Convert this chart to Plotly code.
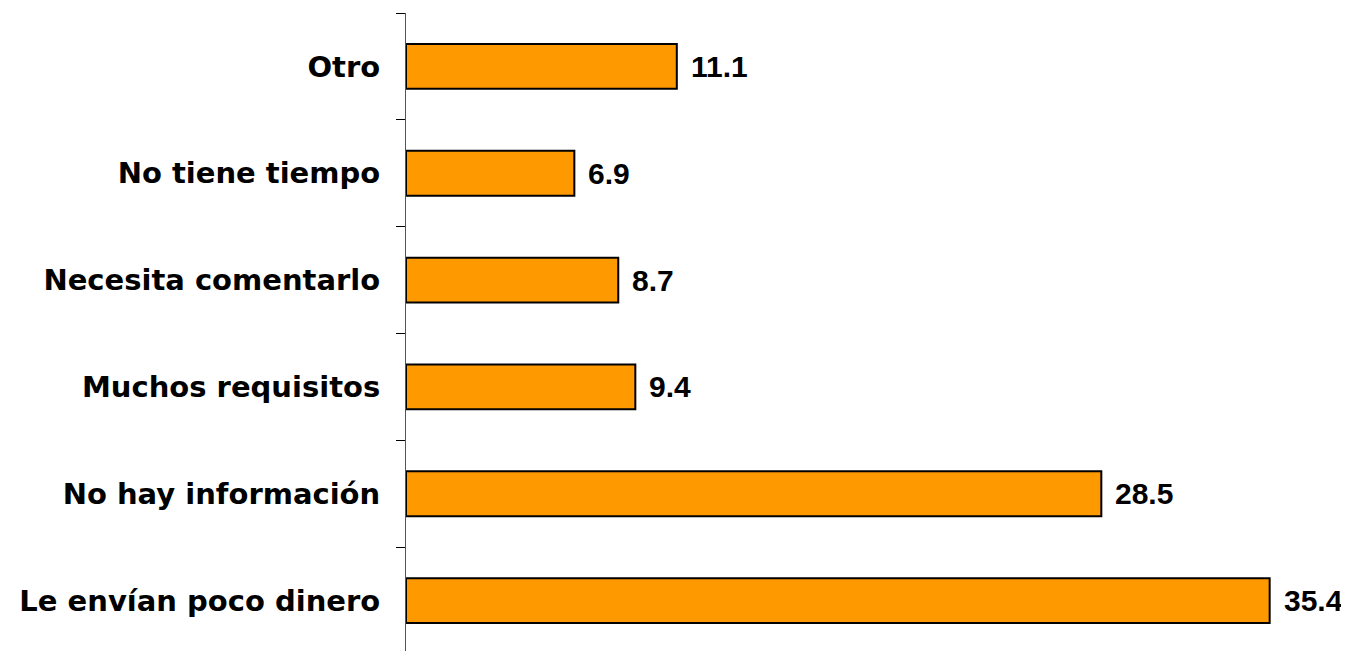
import plotly.graph_objects as go

categories = ["Otro", "No tiene tiempo", "Necesita comentarlo", "Muchos requisitos",
              "No hay información", "Le envían poco dinero"]
values = [11.1, 6.9, 8.7, 9.4, 28.5, 35.4]
value_labels = ["11.1", "6.9", "8.7", "9.4", "28.5", "35.4"]

fig = go.Figure()
fig.add_trace(go.Bar(
    x=values, y=categories, orientation="h",
    marker=dict(color="#FF9900", line=dict(color="black", width=2)),
    width=0.42, hoverinfo="skip",
))

for v, c, t in zip(values, categories, value_labels):
    fig.add_annotation(x=v, y=c, text=t, showarrow=False, xanchor="left",
                       xshift=12, font=dict(family="Liberation Sans, Arial", size=30,
                                            color="black", weight="bold"))

fig.update_layout(
    width=1349, height=646,
    margin=dict(l=398, r=20, t=5, b=0),
    plot_bgcolor="white", paper_bgcolor="white",
    showlegend=False,
    xaxis=dict(range=[0, 38.16], visible=False, showgrid=False, zeroline=False),
    yaxis=dict(
        autorange="reversed", type="category",
        showline=True, linecolor="#555555", linewidth=1,
        ticks="outside", tickson="boundaries", ticklen=9, tickcolor="black",
        ticklabelstandoff=19, showgrid=False, zeroline=False,
        tickfont=dict(family="DejaVu Sans, Arial", size=29, color="black", weight="bold"),
    ),
)

fig.write_html("out.html")
